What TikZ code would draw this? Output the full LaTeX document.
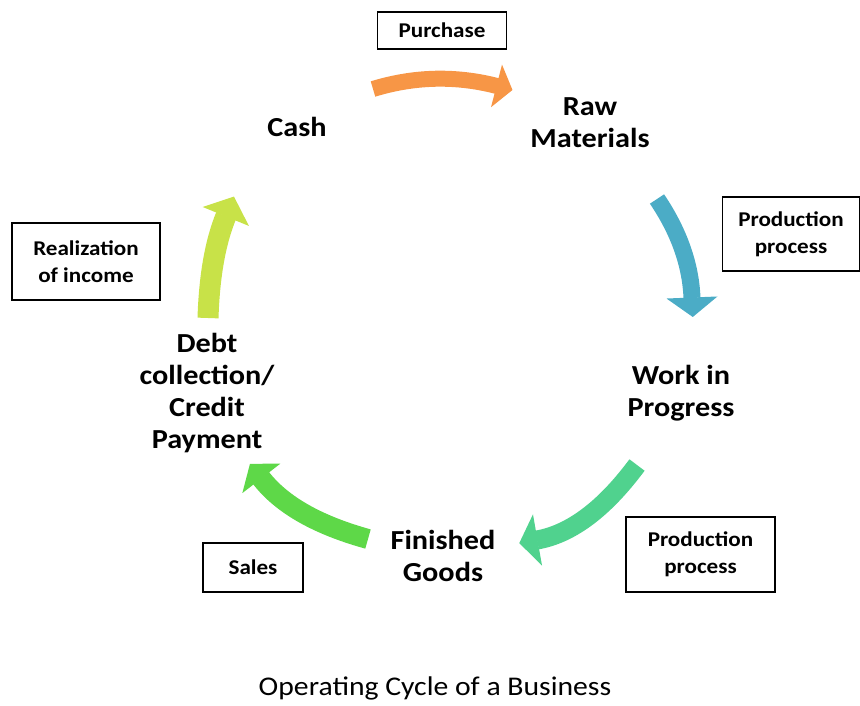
\documentclass[tikz,border=0pt]{standalone}
\usepackage{fontspec}
\setmainfont{Carlito}[FakeStretch=1.1]
\usetikzlibrary{decorations.markings,calc}
\definecolor{corange}{RGB}{247,150,70}
\definecolor{cblue}{RGB}{75,172,198}
\definecolor{cteal}{RGB}{80,210,142}
\definecolor{cgreen}{RGB}{94,216,72}
\definecolor{cyellow}{RGB}{200,226,72}
\begin{document}
\begin{tikzpicture}[x=1pt,y=-1pt,
  stage/.style={font=\fontsize{27.5}{32}\selectfont\bfseries, align=center, inner sep=0pt},
  tagbox/.style={draw=black, line width=1.8pt, font=\fontsize{21}{27}\selectfont\bfseries, align=center, inner sep=0pt},
  flowarrow/.style n args={4}{line width=#1, draw=#2, postaction={decorate},
    decoration={markings, mark=at position 1 with {\fill[#2] (-0.5,-#4/2) -- (#3,0) -- (-0.5,#4/2) -- cycle;}}}]
\useasboundingbox (0,0) rectangle (860,705);
% stages
\node[stage] (cash) at (297,127) {Cash};
\node[stage] (raw) at (590,123) {Raw\\Materials};
\node[stage] (wip) at (681,393) {Work in\\Progress};
\node[stage] (fg) at (443,556) {Finished\\Goods};
\node[stage] (debt) at (207,393) {Debt\\collection/\\Credit\\Payment};
% labels
\node[tagbox, minimum width=129pt, minimum height=37pt] (bpurchase) at (442,30.5) {Purchase};
\node[tagbox, minimum width=137pt, minimum height=74pt] (bpp1) at (791,234) {Production\\process};
\node[tagbox, minimum width=149pt, minimum height=75pt] (bpp2) at (700.5,554.5) {Production\\process};
\node[tagbox, minimum width=100pt, minimum height=49pt] (bsales) at (253,567.5) {Sales};
\node[tagbox, minimum width=148pt, minimum height=77pt] (breal) at (86,261.5) {Realization\\of income};
% title
\node[font=\fontsize{27}{32}\selectfont, inner sep=0pt] (title) at (435,688) {Operating Cycle of a Business};
% arrow coordinates (tail, control, head base)
\coordinate (os) at (373,89); \coordinate (oc) at (435,70); \coordinate (oe) at (497,86);
\coordinate (bs) at (657,199); \coordinate (bc) at (690,248); \coordinate (be) at (692,298);
\coordinate (ts) at (637,465); \coordinate (tc) at (588,531); \coordinate (te) at (537,540);
\coordinate (gs) at (368,539); \coordinate (gc) at (292,518); \coordinate (ge) at (261,478);
\coordinate (ys) at (208,318); \coordinate (yc) at (210,255); \coordinate (ye) at (226,216);
\draw[flowarrow={16pt}{corange}{16}{44}] (os) .. controls ($(os)!0.6667!(oc)$) and ($(oe)!0.6667!(oc)$) .. (oe);
\draw[flowarrow={17pt}{cblue}{19}{51}] (bs) .. controls ($(bs)!0.6667!(bc)$) and ($(be)!0.6667!(bc)$) .. (be);
\draw[flowarrow={19pt}{cteal}{18}{52}] (ts) .. controls ($(ts)!0.6667!(tc)$) and ($(te)!0.6667!(tc)$) .. (te);
\draw[flowarrow={20pt}{cgreen}{18}{48}] (gs) .. controls ($(gs)!0.6667!(gc)$) and ($(ge)!0.6667!(gc)$) .. (ge);
\draw[flowarrow={21pt}{cyellow}{21}{50}] (ys) .. controls ($(ys)!0.6667!(yc)$) and ($(ye)!0.6667!(yc)$) .. (ye);
\end{tikzpicture}
\end{document}
